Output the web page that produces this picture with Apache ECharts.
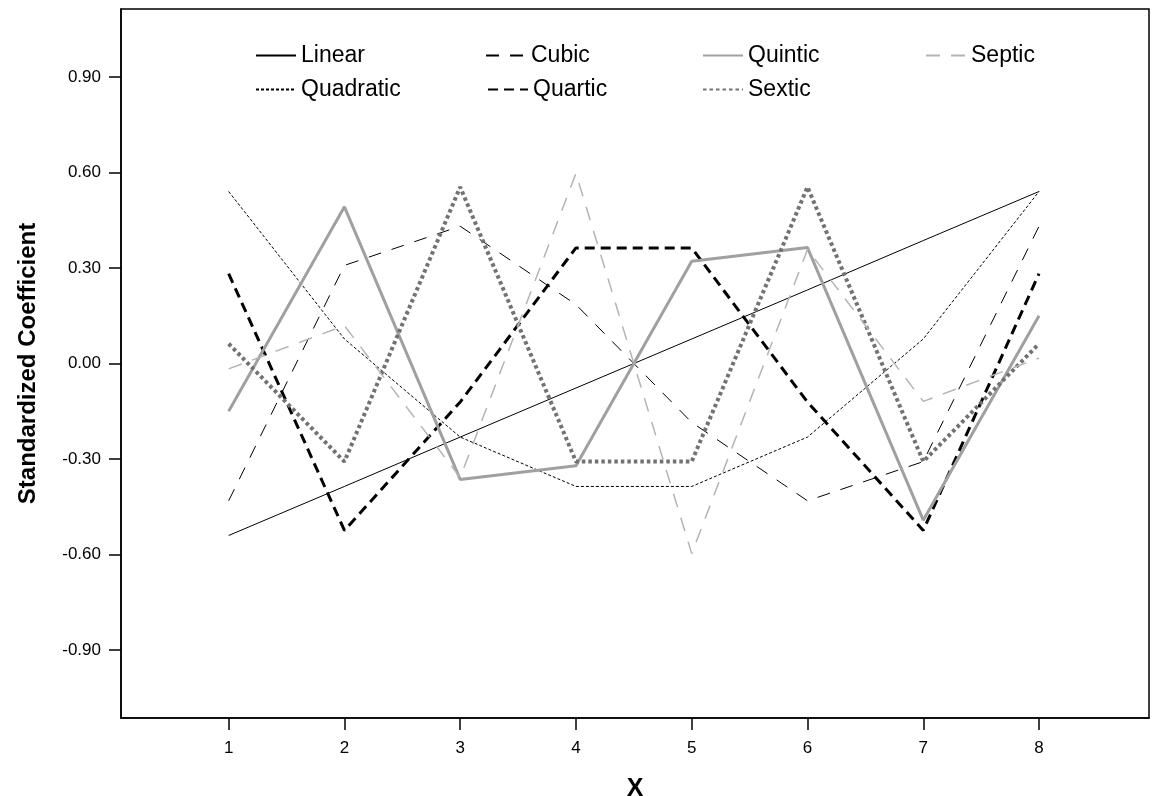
<!DOCTYPE html>
<html>
<head>
<meta charset="utf-8">
<script src="https://cdn.jsdelivr.net/npm/echarts@6/dist/echarts.min.js"></script>
<style>html,body{margin:0;padding:0;background:#fff}#c{width:1153px;height:796px}</style>
</head>
<body>
<div id="c"></div>
<script>
var xValues = [1, 2, 3, 4, 5, 6, 7, 8];
var linear    = [-0.540, -0.386, -0.231, -0.077, 0.077, 0.231, 0.386, 0.540];
var quadratic = [0.540, 0.077, -0.231, -0.386, -0.386, -0.231, 0.077, 0.540];
var cubic     = [-0.431, 0.308, 0.431, 0.185, -0.185, -0.431, -0.308, 0.431];
var quartic   = [0.282, -0.524, -0.121, 0.363, 0.363, -0.121, -0.524, 0.282];
var quintic   = [-0.150, 0.492, -0.364, -0.321, 0.321, 0.364, -0.492, 0.150];
var sextic    = [0.062, -0.308, 0.554, -0.308, -0.308, 0.554, -0.308, 0.062];
var septic    = [-0.017, 0.119, -0.358, 0.597, -0.597, 0.358, -0.119, 0.017];
var yTicks = [-0.90, -0.60, -0.30, 0.00, 0.30, 0.60, 0.90];
var xTicks = [1, 2, 3, 4, 5, 6, 7, 8];

var defs = [
  {name: 'Linear', data: linear, color: '#000000', width: 1, type: 'solid', left: 255, top: 44},
  {name: 'Quadratic', data: quadratic, color: '#000000', width: 1, type: [3, 2], left: 255, top: 78},
  {name: 'Cubic', data: cubic, color: '#000000', width: 1, type: [13, 11], left: 485, top: 44},
  {name: 'Quartic', data: quartic, color: '#000000', width: 3, type: [10, 6], left: 487, top: 78},
  {name: 'Quintic', data: quintic, color: '#a0a0a0', width: 3, type: 'solid', left: 702, top: 44},
  {name: 'Sextic', data: sextic, color: '#727272', width: 4, type: [3.5, 3], left: 702, top: 78},
  {name: 'Septic', data: septic, color: '#b4b4b4', width: 1.5, type: [14, 11], left: 925, top: 44}
];

var series = defs.map(function (d) {
  return {
    name: d.name,
    type: 'line',
    data: xValues.map(function (x, i) { return [x, d.data[i]]; }),
    symbol: 'none',
    silent: true,
    animation: false,
    lineStyle: {color: d.color, width: d.width, type: d.type},
    itemStyle: {color: d.color}
  };
});

var legends = defs.map(function (d) {
  return {
    data: [d.name],
    left: d.left,
    top: d.top,
    itemWidth: 40,
    itemHeight: 14,
    itemGap: 0,
    padding: 0,
    selectedMode: false,
    itemStyle: {opacity: 0, borderWidth: 0},
    textStyle: {fontFamily: 'Liberation Sans', fontSize: 23, color: '#000'}
  };
});

var chart = echarts.init(document.getElementById('c'), null, {renderer: 'canvas'});
chart.setOption({
  backgroundColor: '#ffffff',
  animation: false,
  legend: legends,
  grid: {left: 121, right: 4, top: 9, bottom: 78, containLabel: false, outerBoundsMode: 'none',
         show: true, borderColor: '#000', borderWidth: 1.5},
  xAxis: {
    type: 'value',
    min: 0.07,
    max: 8.95,
    name: 'X',
    nameLocation: 'middle',
    nameGap: 59,
    nameTextStyle: {fontFamily: 'Liberation Sans', fontSize: 25, fontWeight: 'bold', color: '#000'},
    axisLine: {show: true, onZero: false, lineStyle: {color: '#000', width: 1.5}},
    axisTick: {show: true, length: 12, customValues: xTicks, lineStyle: {color: '#000', width: 1.5}},
    axisLabel: {customValues: xTicks, fontFamily: 'Liberation Sans', fontSize: 17, color: '#000', margin: 22,
                formatter: function (v) { return String(v); }},
    splitLine: {show: false}
  },
  yAxis: {
    type: 'value',
    min: -1.113,
    max: 1.113,
    name: 'Standardized Coefficient',
    nameLocation: 'middle',
    nameGap: 81,
    nameTextStyle: {fontFamily: 'Liberation Sans', fontSize: 24, fontWeight: 'bold', color: '#000'},
    axisLine: {show: true, onZero: false, lineStyle: {color: '#000', width: 1.5}},
    axisTick: {show: true, length: 12, customValues: yTicks, lineStyle: {color: '#000', width: 1.5}},
    axisLabel: {customValues: yTicks, fontFamily: 'Liberation Sans', fontSize: 17, color: '#000', margin: 20,
                formatter: function (v) { return v.toFixed(2); }},
    splitLine: {show: false}
  },
  series: series
});
</script>
</body>
</html>
